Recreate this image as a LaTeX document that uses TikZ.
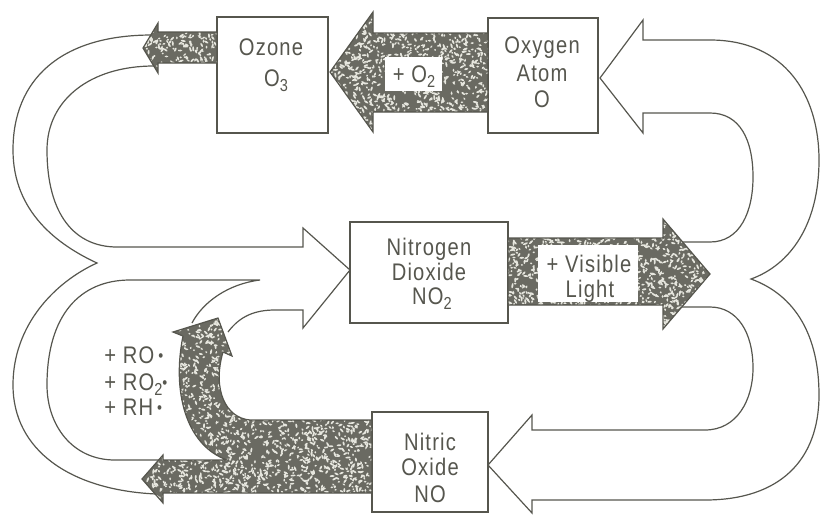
\documentclass[tikz,border=0pt]{standalone}
\usepackage{fontspec}
\setmainfont{Liberation Sans}
\newfontfamily\labfont[FakeStretch=0.84,LetterSpace=5.0]{Liberation Sans}
\usetikzlibrary{fit}
\definecolor{ink}{HTML}{56564E}
\definecolor{stip}{HTML}{6A6A62}
\definecolor{speck}{HTML}{E6E6DE}
\newcommand\lowsub[1]{\raisebox{-0.45ex}{\fontsize{13}{13}\selectfont #1}}
\newcommand\rdot{\raisebox{0.15ex}{\scalebox{0.7}{\textbullet}}}
\newcommand\stipshape[6]{%
  \begin{scope}
    \clip #1;
    \fill[stip] (#2,#3) rectangle (#4,#5);
    \foreach \k in {1,...,#6}{%
      \pgfmathsetmacro\px{#2+rnd*(#4-#2)}%
      \pgfmathsetmacro\py{#3+rnd*(#5-#3)}%
      \pgfmathsetmacro\pr{1.1+1.6*rnd}%
      \pgfmathsetmacro\pa{180*rnd}%
      \fill[speck, rotate around={\pa:(\px,\py)}] (\px,\py) ellipse ({\pr} and 0.95);
    }
  \end{scope}
  \draw[ink, line width=0.9pt, line join=miter] #1;
}
\begin{document}
\begin{tikzpicture}[x=0.75pt,y=-0.75pt,
  box/.style={draw=ink, line width=0.9pt, inner sep=0pt, fill=white},
  lab/.style={text=ink, font=\labfont\fontsize{18}{20}\selectfont, inner sep=0pt, anchor=base},
  wline/.style={draw=ink, line width=0.9pt, line join=miter}]
\pgfmathsetseed{42}
\useasboundingbox (0,0) rectangle (821,515);

% white outline arrows, left
\draw[wline] (152,35) .. controls (60,35) and (13,80) .. (13,150)
  .. controls (13,212) and (58,245) .. (97,263)
  .. controls (55,282) and (13,325) .. (13,385)
  .. controls (13,450) and (70,490) .. (156,494);
\draw[wline] (154,66) .. controls (90,66) and (47,100) .. (47,150)
  .. controls (47,215) and (75,247) .. (117,247) -- (303,247) -- (303,228)
  -- (350,270) -- (303,328) -- (303,310) -- (275,310)
  .. controls (255,310) and (240,316) .. (228,332);
\draw[wline] (163,460) -- (115,460) .. controls (72,460) and (47,425) .. (47,385)
  .. controls (47,315) and (80,280) .. (130,280) -- (260,280)
  .. controls (228,284) and (203,302) .. (192,323);
% white outline arrows, right
\draw[wline] (683,242) -- (710,242) .. controls (740,242) and (753,212) .. (753,177)
  .. controls (753,140) and (740,113) .. (710,113) -- (643,113) -- (643,133)
  -- (600,78) -- (643,20) -- (643,40) -- (710,40)
  .. controls (785,40) and (819,95) .. (819,160)
  .. controls (819,225) and (790,265) .. (751,279)
  .. controls (795,295) and (819,335) .. (819,395)
  .. controls (819,460) and (780,500) .. (705,500) -- (532,500) -- (532,513)
  -- (488,465) -- (532,415) -- (532,430) -- (705,430)
  .. controls (737,430) and (753,400) .. (753,368)
  .. controls (753,332) and (737,307) .. (710,307) -- (682,307);

% boxes
\node[box, fit={(217,17) (328,133)}] (ozone) {};
\node[box, fit={(488,18) (598,133)}] (oxygen) {};
\node[box, fit={(350,222) (508,323)}] (no2) {};
\node[box, fit={(372,412) (488,512)}] (no) {};

% stippled arrows
\stipshape{(217,32) -- (158,32) -- (158,23) -- (143,48) -- (158,73) -- (158,63) -- (217,63) -- cycle}{140}{20}{220}{76}{240}
\stipshape{(488,33) -- (373,33) -- (373,12) -- (330,72) -- (373,132) -- (373,112) -- (488,112) -- cycle}{328}{10}{490}{134}{1100}
\stipshape{(508,238) -- (663,238) -- (663,219) -- (710,274) -- (663,329) -- (663,305) -- (508,305) -- cycle}{506}{217}{712}{331}{1300}
\stipshape{(372,420) -- (250,420) .. controls (226,418) and (212,390) .. (223,352) -- (232,356) -- (218,318) -- (173,332) -- (183,336) .. controls (172,390) and (185,445) .. (227,460) -- (163,460) -- (163,455) -- (142,479) -- (163,503) -- (163,493) -- (372,493) -- cycle}{140}{316}{374}{505}{2400}

% white label patches
\fill[white] (385,57) rectangle (442,91);
\fill[white] (538,245) rectangle (638,302);

% texts
\node[lab] (t-oz1) at (271,55) {Ozone};
\node[lab] (t-oz2) at (276,86) {O\lowsub{3}};
\node[lab] (t-ox1) at (542,53) {Oxygen};
\node[lab] (t-ox2) at (542,81) {Atom};
\node[lab] (t-ox3) at (542,107) {O};
\node[lab] (t-n1) at (429,255) {Nitrogen};
\node[lab] (t-n2) at (429,280) {Dioxide};
\node[lab] (t-n3) at (432,304) {NO\lowsub{2}};
\node[lab] (t-m1) at (430,450) {Nitric};
\node[lab] (t-m2) at (430,475) {Oxide};
\node[lab] (t-m3) at (430,502) {NO};
\node[lab] (t-o2) at (414,82) {+ O\lowsub{2}};
\node[lab] (t-v1) at (589,272) {+ Visible};
\node[lab] (t-v2) at (590,297) {Light};
\node[lab, anchor=base west] (t-r1) at (104,363) {+ RO\,\rdot};
\node[lab, anchor=base west] (t-r2) at (104,390) {+ RO\lowsub{2}\rdot};
\node[lab, anchor=base west] (t-r3) at (104,415) {+ RH\,\rdot};
\end{tikzpicture}
\end{document}
